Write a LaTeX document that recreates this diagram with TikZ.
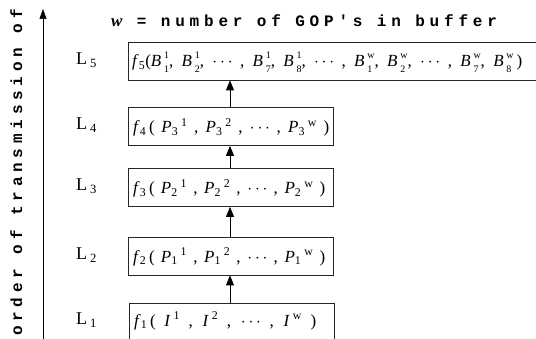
\documentclass[tikz,border=0pt]{standalone}
\usepackage{fontspec}
\setmainfont{Liberation Serif}
\newfontfamily\monob[LetterSpace=30,BoldFont={Liberation Mono Bold}]{Liberation Mono}
\usetikzlibrary{arrows.meta}
\newsavebox\supbox
\newsavebox\subbox
\newcommand\st[2]{\sbox\supbox{\raisebox{0.5em}{\fontsize{10}{10}\selectfont #1}}\sbox\subbox{\raisebox{-0.3em}{\fontsize{10}{10}\selectfont #2}}\,\rlap{\usebox\supbox}\ifdim\wd\supbox>\wd\subbox\relax\hbox to\wd\supbox{\usebox\subbox\hss}\else\usebox\subbox\fi}
\newcommand\ps[2]{\textsubscript{#1}\,\textsuperscript{#2}}
\begin{document}
\begin{tikzpicture}[x=1pt,y=1pt,
  lay/.style={draw=black!85,line width=0.8pt,minimum height=38pt,inner sep=0pt,anchor=west},
  txt/.style={font=\fontsize{17}{19}\selectfont,inner sep=0pt,anchor=west},
  lab/.style={font=\fontsize{18}{20}\selectfont,inner sep=0pt,anchor=base west},
  up/.style={-{Triangle[length=10pt,width=8pt]},line width=0.8pt},
  mono/.style={font=\fontsize{16}{18}\monob\bfseries,inner sep=0pt}]
\useasboundingbox (0,0) rectangle (536,339);
\clip (0,0) rectangle (536,339);
% axis
\coordinate (a0) at (43,0);
\coordinate (a1) at (43,330);
\draw[-{Triangle[length=10pt,width=7pt]},line width=0.6pt] (a0) -- (a1);
\node[mono,rotate=90,anchor=base west] (ax) at (22,3) {order of transmission of};
\node[mono,anchor=base west] (title) at (111,312) {{\fontsize{17}{17}\rmfamily\bfseries\itshape w} = number of GOP{\char"27}s in buffer};
% boxes
\node[lay,minimum width=412pt] (b5) at (128,278) {};
\node[lay,minimum width=205pt] (b4) at (128,212.5) {};
\node[lay,minimum width=205pt] (b3) at (128,151.5) {};
\node[lay,minimum width=205pt] (b2) at (128,83) {};
\node[lay,minimum width=205pt,minimum height=40pt] (b1) at (129,16) {};
% texts
\node[txt] (t5) at (132,277) {\makebox[390pt][s]{\textit{f}\textsubscript{5}(\textit{B}\st{1}{1}, \textit{B}\st{1}{2}, $\cdots$ , \textit{B}\st{1}{7}, \textit{B}\st{1}{8}, $\cdots$ , \textit{B}\st{w}{1}, \textit{B}\st{w}{2}, $\cdots$ , \textit{B}\st{w}{7}, \textit{B}\st{w}{8}\,)}};
\node[txt] (t4) at (133,211.5) {\makebox[196pt][s]{\textit{f}\textsubscript{4}\,( \textit{P}\ps{3}{1} , \textit{P}\ps{3}{2} , $\cdots$ , \textit{P}\ps{3}{w} )}};
\node[txt] (t3) at (133,150.5) {\makebox[192pt][s]{\textit{f}\textsubscript{3}\,( \textit{P}\ps{2}{1} , \textit{P}\ps{2}{2} , $\cdots$ , \textit{P}\ps{2}{w} )}};
\node[txt] (t2) at (133,82) {\makebox[192pt][s]{\textit{f}\textsubscript{2}\,( \textit{P}\ps{1}{1} , \textit{P}\ps{1}{2} , $\cdots$ , \textit{P}\ps{1}{w} )}};
\node[txt] (t1) at (134,18) {\makebox[182pt][s]{\textit{f}\textsubscript{1}\,( \textit{I}\,\textsuperscript{1} , \textit{I}\,\textsuperscript{2} , $\cdots$ , \textit{I}\,\textsuperscript{w} )}};
% labels
\node[lab] (l5) at (76,274) {L\,\textsubscript{5}};
\node[lab] (l4) at (76,209) {L\,\textsubscript{4}};
\node[lab] (l3) at (76,148) {L\,\textsubscript{3}};
\node[lab] (l2) at (76,79) {L\,\textsubscript{2}};
\node[lab] (l1) at (76,14) {L\,\textsubscript{1}};
% arrows
\draw[up] (b1.north -| 230,0) -- (b2.south -| 230,0);
\draw[up] (b2.north -| 230,0) -- (b3.south -| 230,0);
\draw[up] (b3.north -| 230,0) -- (b4.south -| 230,0);
\draw[up] (b4.north -| 230,0) -- (b5.south -| 230,0);
\end{tikzpicture}
\end{document}
